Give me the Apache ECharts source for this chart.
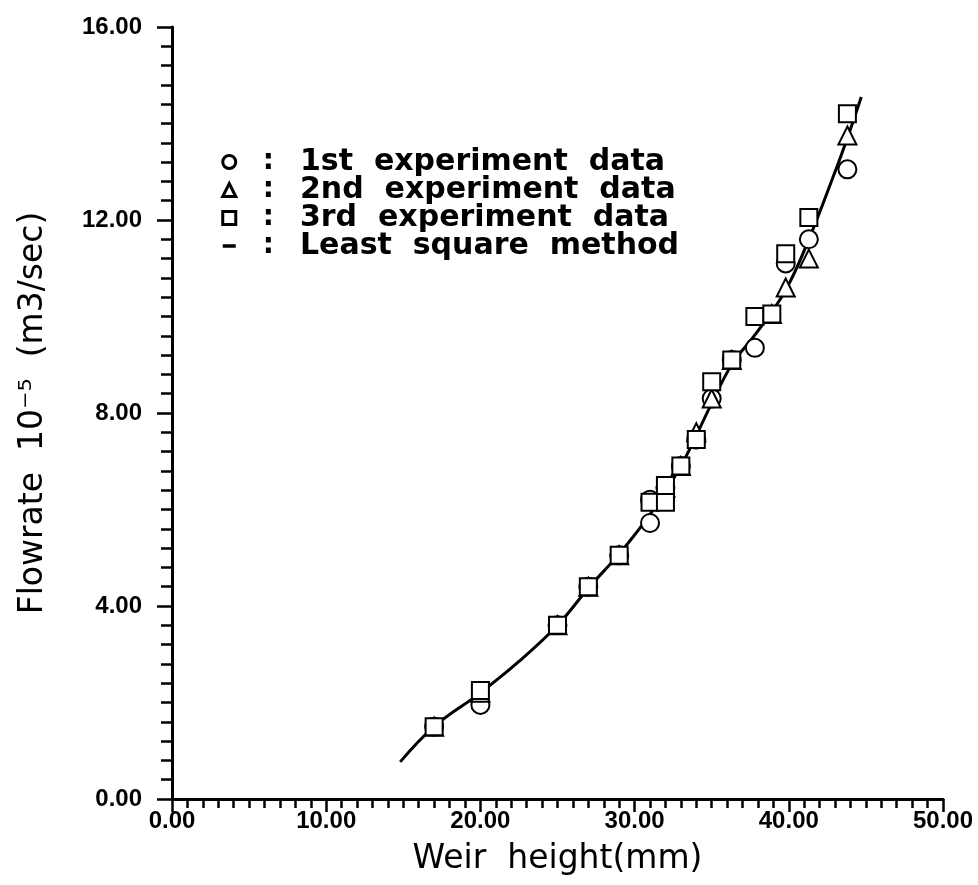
<!DOCTYPE html>
<html>
<head>
<meta charset="utf-8">
<script src="https://cdn.jsdelivr.net/npm/echarts@6/dist/echarts.min.js"></script>
<style>
  html, body { margin: 0; padding: 0; background: #fff; }
  #chart { width: 978px; height: 885px; }
</style>
</head>
<body>
<div id="chart"></div>
<script>
// data: [weir height (mm), flowrate (1e-5 m3/sec)]
var run1 = [[17, 1.5], [20, 1.95], [25, 3.6], [27, 4.4], [29, 5.05], [31, 5.72], [31, 6.2],
    [32, 6.45], [33, 6.9], [34, 7.45], [35, 8.3], [36.3, 9.1], [37.8, 9.35], [39.8, 11.1],
    [41.3, 11.6], [43.8, 13.05]];
var run2 = [[17, 1.5], [20, 2.2], [25, 3.6], [27, 4.4], [29, 5.05], [32, 6.45], [33, 6.9],
    [34, 7.6], [35, 8.3], [36.3, 9.1], [38.9, 10.05], [39.8, 10.6], [41.3, 11.2], [43.8, 13.75]];
var run3 = [[17, 1.5], [20, 2.25], [25, 3.6], [27, 4.4], [29, 5.05], [31, 6.15], [32, 6.15],
    [32, 6.5], [33, 6.9], [34, 7.45], [35, 8.65], [36.3, 9.1], [37.8, 10.0], [38.9, 10.05],
    [39.8, 11.3], [41.3, 12.05], [43.8, 14.2]];
// fitted curve
var fitCurve = [[14.8, 0.77], [17, 1.5], [20, 2.2], [22.5, 2.85], [25, 3.6], [27, 4.37],
    [29, 5.08], [31, 5.9], [33, 6.9], [35, 8.2], [36.3, 9.0], [38, 9.7], [39.8, 10.55],
    [41.3, 11.6], [43, 13.0], [43.8, 13.7], [44.7, 14.55]];

var seriesNames = ['1st  experiment  data', '2nd  experiment  data', '3rd  experiment  data', 'Least  square  method'];

var chart = echarts.init(document.getElementById('chart'));

var labelFont = { fontFamily: 'Liberation Sans', fontWeight: 'bold', fontSize: 24, color: '#000' };
var nameFont = { fontFamily: 'DejaVu Sans', fontSize: 33, color: '#000' };
var legendMark = { color: '#fff', borderColor: '#000', borderWidth: 3 };

chart.setOption({
    backgroundColor: '#fff',
    animation: false,
    grid: { left: 172, right: 35, top: 27, bottom: 86 },
    legend: {
        orient: 'vertical',
        left: 216,
        top: 142,
        itemWidth: 13,
        itemHeight: 13,
        itemGap: -2,
        selectedMode: false,
        data: [
            { name: seriesNames[0], icon: 'circle', itemStyle: legendMark },
            { name: seriesNames[1], icon: 'triangle', itemStyle: legendMark },
            { name: seriesNames[2], icon: 'rect', itemStyle: legendMark },
            {
                name: seriesNames[3],
                itemStyle: { color: 'rgba(0,0,0,0)', borderWidth: 0 },
                lineStyle: { width: 3.5 }
            }
        ],
        formatter: function (n) { return '{c|:}{t|' + n + '}'; },
        textStyle: {
            fontFamily: 'DejaVu Sans',
            fontSize: 30,
            color: '#000',
            lineHeight: 28,
            rich: {
                c: { fontSize: 28, fontWeight: 'bold', lineHeight: 28, padding: [0, 26, 0, 22] },
                t: { fontSize: 30, fontWeight: 'bold', fontFamily: 'DejaVu Sans', lineHeight: 28 }
            }
        }
    },
    xAxis: {
        type: 'value',
        min: 0,
        max: 50,
        interval: 10,
        name: 'Weir  height(mm)',
        nameLocation: 'middle',
        nameGap: 44,
        nameTextStyle: nameFont,
        axisLine: { lineStyle: { color: '#000', width: 3 } },
        axisTick: { length: 13, lineStyle: { color: '#000', width: 2.5 } },
        minorTick: { show: true, splitNumber: 10, length: 9, lineStyle: { color: '#000', width: 2.5 } },
        splitLine: { show: false },
        axisLabel: Object.assign({ margin: 10, formatter: function (v) { return v.toFixed(2); } }, labelFont)
    },
    yAxis: {
        type: 'value',
        min: 0,
        max: 16,
        interval: 4,
        name: 'Flowrate  10\u207B\u2075  (m3/sec)',
        nameLocation: 'middle',
        nameGap: 122,
        nameTextStyle: nameFont,
        axisLine: { lineStyle: { color: '#000', width: 3 } },
        axisTick: { length: 15, lineStyle: { color: '#000', width: 2.5 } },
        minorTick: { show: true, splitNumber: 10, length: 11, lineStyle: { color: '#000', width: 2.5 } },
        splitLine: { show: false },
        axisLabel: Object.assign({ margin: 30, formatter: function (v) { return v.toFixed(2); } }, labelFont)
    },
    series: [
        {
            name: seriesNames[0],
            type: 'scatter',
            data: run1,
            symbol: 'emptyCircle',
            symbolSize: 18,
            itemStyle: { color: '#000', borderColor: '#000', borderWidth: 3, opacity: 1 },
            z: 4
        },
        {
            name: seriesNames[1],
            type: 'scatter',
            data: run2,
            symbol: 'emptyTriangle',
            symbolSize: 18,
            itemStyle: { color: '#000', borderColor: '#000', borderWidth: 3, opacity: 1 },
            z: 4
        },
        {
            name: seriesNames[2],
            type: 'scatter',
            data: run3,
            symbol: 'emptyRect',
            symbolSize: 17,
            itemStyle: { color: '#000', borderColor: '#000', borderWidth: 3, opacity: 1 },
            z: 4
        },
        {
            name: seriesNames[3],
            type: 'line',
            data: fitCurve,
            smooth: 0.4,
            symbol: 'none',
            lineStyle: { color: '#000', width: 3 },
            itemStyle: { color: '#000' },
            z: 3
        }
    ]
});
</script>
</body>
</html>
